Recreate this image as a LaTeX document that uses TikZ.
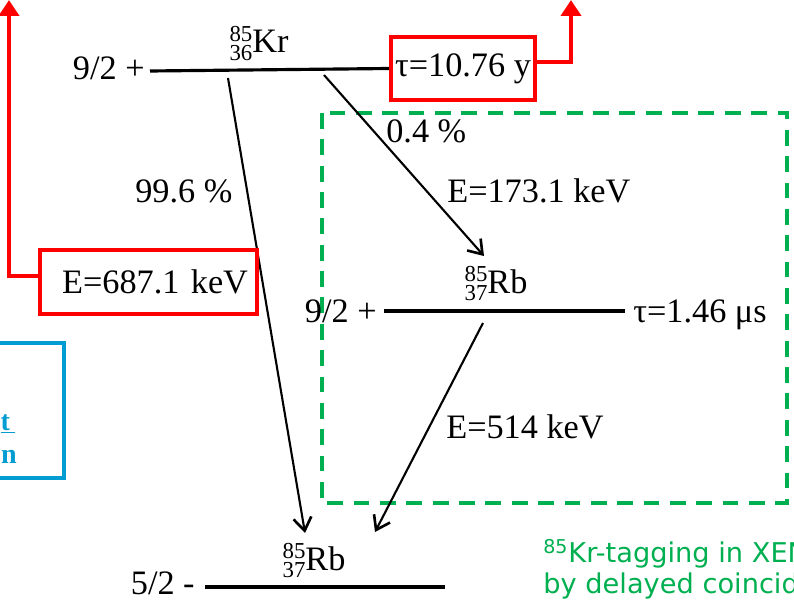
\documentclass[tikz,border=0pt]{standalone}
\usepackage{fontspec}
\setmainfont{Liberation Serif}
\newfontfamily\notefont{DejaVu Sans}
\usepackage{tikz}
\usetikzlibrary{arrows.meta,positioning}
\usepackage{xcolor}
\definecolor{boxred}{RGB}{255,0,0}
\definecolor{taggreen}{RGB}{0,176,80}
\definecolor{linkblue}{RGB}{0,156,210}
\newcommand{\nuc}[3]{\rlap{\raisebox{6.5pt}{\fontsize{13}{13}\selectfont #1}}\raisebox{-4pt}{\fontsize{13}{13}\selectfont #2}#3}

\begin{document}
\begin{tikzpicture}[x=0.02cm, y=-0.02cm, every node/.style={font=\fontsize{19.5}{21}\selectfont, inner sep=0pt}]
\tikzset{lvl/.style={line width=1.8pt}}
\tikzset{decay/.style={line width=1.2pt, -{Straight Barb[length=2.6mm, width=3.6mm, line width=1.5pt]}}}
\tikzset{redbox/.style={draw=boxred, line width=2.3pt}}
\tikzset{redarrow/.style={draw=boxred, line width=2.3pt, -{Triangle[length=3.2mm, width=4mm]}}}
\useasboundingbox (0,0) rectangle (794,601);
\clip (0,0) rectangle (794,601);

% coincidence window
\draw[taggreen, line width=2pt, dash pattern=on 9pt off 6pt] (322,113) rectangle (787,503);

% 85Kr level
\coordinate (kr1) at (150,71);
\node[anchor=base east] (jkr) at (145,80) {9/2 +};
\node[anchor=base] (kr) at (259,53) {\nuc{85}{36}{Kr}};
\node[redbox, minimum width=2.88cm, minimum height=1.26cm] (taukr) at (463,68.5) {τ=10.76 y};
\draw[lvl] (kr1) -- (taukr.west);

% 85Rb excited level
\coordinate (rbx1) at (384,311);
\coordinate (rbx2) at (625,311);
\node[anchor=base east] (jrbx) at (377,322) {9/2 +};
\node[anchor=base] (rbx) at (496,293) {\nuc{85}{37}{Rb}};
\node[anchor=base west] (taurb) at (633,322) {τ=1.46 μs};
\draw[lvl] (rbx1) -- (rbx2);

% 85Rb ground level
\coordinate (rbg1) at (205,587);
\coordinate (rbg2) at (445,587);
\node[anchor=base east] (jrbg) at (195,594) {5/2 -};
\node[anchor=base] (rbg) at (314,570) {\nuc{85}{37}{Rb}};
\draw[lvl] (rbg1) -- (rbg2);

% decays
\coordinate (s1) at (228,78);
\coordinate (e1) at (305,533);
\coordinate (s2) at (324,75);
\coordinate (e2) at (484,256);
\coordinate (s3) at (483,323);
\coordinate (e3) at (375,532);
\draw[decay] (s1) -- (e1);
\draw[decay] (s2) -- (e2);
\draw[decay] (s3) -- (e3);
\node[anchor=base west] (br1) at (135,203) {99.6 \%};
\node[anchor=base west] (br2) at (386,143) {0.4 \%};
\node[anchor=base west] (en2) at (447,203) {E=173.1 keV};
\node[anchor=base west] (en3) at (446,438) {E=514 keV};

% beta endpoint box
\node[redbox, minimum width=4.34cm, minimum height=1.28cm, inner xsep=0.18cm, text width=3.98cm, align=right] (ebeta) at (148.5,282) {E=687.1 keV};

% red arrows to top
\coordinate (topl) at (9,0);
\coordinate (topr) at (571,0);
\draw[redarrow] ([yshift=3.5pt]ebeta.west) -| (topl);
\draw[redarrow] ([yshift=3.5pt]taukr.east) -| (topr);

% side box, cut at the edge
\draw[linkblue, line width=2pt] (-20,343) rectangle (64,478);
\node[anchor=base east, text=linkblue, font=\fontsize{16}{17}\selectfont\bfseries] (lnk1) at (15,430) {\underline{t\,}};
\node[anchor=base east, text=linkblue, font=\fontsize{16}{17}\selectfont\bfseries] (lnk2) at (17,463) {on};

% note
\node[anchor=base west, text=taggreen, align=left, font=\notefont\fontsize{15.5}{17.5}\selectfont] (note) at (543,593) {\textsuperscript{85}Kr-tagging in XENON\\by delayed coincidence};
\end{tikzpicture}
\end{document}
